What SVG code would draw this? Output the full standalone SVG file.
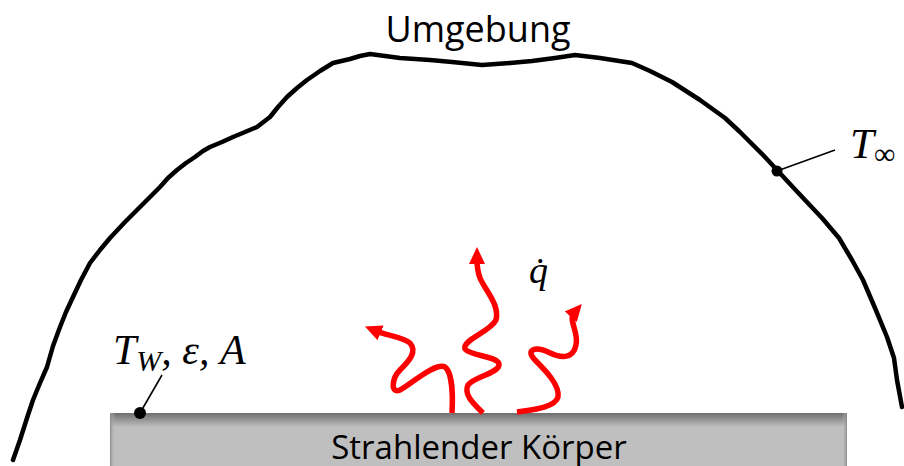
<svg xmlns="http://www.w3.org/2000/svg" width="904" height="466" viewBox="0 0 904 466">
<style>
.env{fill:none;stroke:#000;stroke-width:4.5;stroke-linejoin:round;stroke-linecap:round}
.wave{fill:none;stroke:#ff0000;stroke-width:5.5;stroke-linecap:butt;stroke-linejoin:round}
.lead{stroke:#000;stroke-width:1.6}
.lbl{font-family:"Open Sans","Liberation Sans",sans-serif;fill:#000}
.math{font-family:"Liberation Serif","DejaVu Serif",serif;font-style:italic;fill:#000}
</style>
<defs>
<marker id="ah" markerUnits="userSpaceOnUse" markerWidth="18" markerHeight="18" viewBox="0 0 18 18" refX="5" refY="9" orient="auto">
<path d="M0,1 L17,9 L0,17 z" fill="#ff0000"/>
</marker>
<linearGradient id="topshade" x1="0" y1="0" x2="0" y2="1">
<stop offset="0" stop-color="#6e6e6e"/>
<stop offset="1" stop-color="#bfbfbf"/>
</linearGradient>
<linearGradient id="leftshade" x1="0" y1="0" x2="1" y2="0">
<stop offset="0" stop-color="#8a8a8a"/>
<stop offset="1" stop-color="#bfbfbf" stop-opacity="0"/>
</linearGradient>
<linearGradient id="rightshade" x1="1" y1="0" x2="0" y2="0">
<stop offset="0" stop-color="#8a8a8a"/>
<stop offset="1" stop-color="#bfbfbf" stop-opacity="0"/>
</linearGradient>
</defs>

<g id="umgebung">
<polyline class="env" points="13,460 20,440 27,418 33,400 40,383 47,367 53,346 60,327 66,312 73,297 81,280 90,263 100,250 110,238 125,222 140,207 150,197 160,187 168,178 177,170 186,163 195,157 203,151 210,147 222,142 233,137 245,132 257,127 270,117 278,107 287,97 297,88 307,80 320,71 333,63 350,59 360,56 370,54 400,58 430,60 452,62 482,65 510,63 532,61 555,58 575,55 600,58 632,63 650,71 672,82 700,100 725,118 740,132 750,142 764,156 777,170 790,184 805,200 822,218 839,238 852,260 863,280 875,308 887,337 894,358 897,380 902,407"/>
<text class="lbl" x="478" y="42" font-size="36" text-anchor="middle">Umgebung</text>
</g>

<g id="t-inf">
<line class="lead" x1="777" y1="171" x2="835" y2="150"/>
<circle cx="777" cy="171" r="5.5" fill="#000"/>
<text class="math" x="850" y="158" font-size="43">T<tspan font-size="30" dy="6" font-style="normal">∞</tspan></text>
</g>

<g id="koerper">
<rect x="110" y="413" width="737" height="53" fill="#bfbfbf"/>
<rect x="110" y="413" width="737" height="14" fill="url(#topshade)"/>
<rect x="110" y="413" width="5" height="53" fill="url(#leftshade)"/>
<rect x="842" y="413" width="5" height="53" fill="url(#rightshade)"/>
<text class="lbl" x="479" y="459" font-size="33" text-anchor="middle">Strahlender Körper</text>
</g>

<g id="t-w">
<line class="lead" x1="162" y1="375" x2="140" y2="413"/>
<circle cx="140" cy="413" r="6" fill="#000"/>
<text class="math" x="113" y="364" font-size="42">T<tspan font-size="30" dy="7">W</tspan><tspan dy="-7">, ε, A</tspan></text>
</g>

<g id="q-dot">
<text class="math" x="529" y="283" font-size="38">q̇</text>
</g>

<g id="connectors">
<path class="wave" marker-end="url(#ah)" d="M452,413 C453,395 452,372 445,367 C435,362 410,385 400,390 C390,394 392,378 400,370 C408,362 418,352 410,343 C403,337 388,336 376,331"/>
<path class="wave" marker-end="url(#ah)" d="M483,413 C475,405 463,395 468,385 C473,377 500,373 499,364 C498,356 470,356 465,349 C462,340 490,332 496,320 C500,305 485,290 480,278 C477,270 477,265 477,259"/>
<path class="wave" marker-end="url(#ah)" d="M517,412 C530,410 555,408 558,397 C560,385 545,370 535,360 C525,350 535,346 548,352 C560,358 573,360 576,345 C579,332 568,320 574,313"/>
</g>
</svg>
